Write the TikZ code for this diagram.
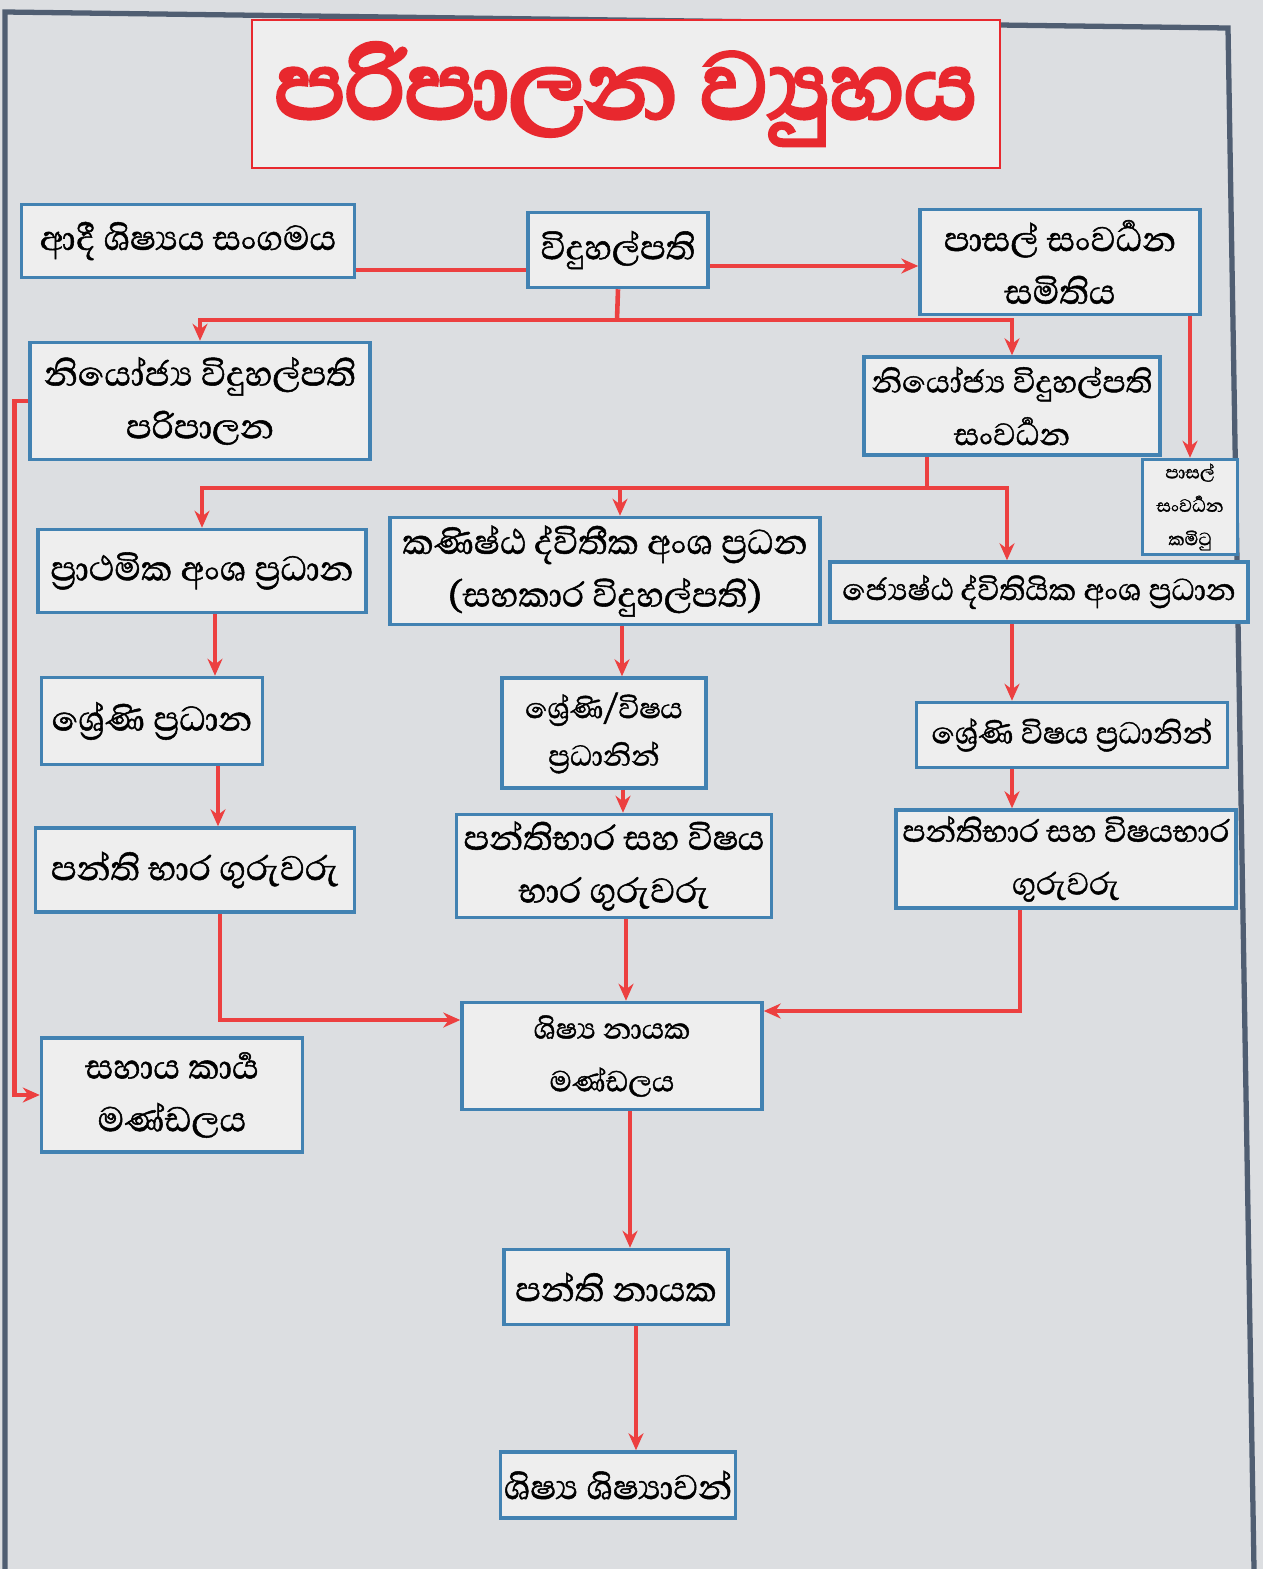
\documentclass[tikz,border=0pt]{standalone}
\usepackage{fontspec}
\setmainfont[Script=Sinhala, FakeBold=1.2]{Abhaya Libre}
\newfontfamily\titlefont[Script=Sinhala, FakeBold=4]{Abhaya Libre}
\usepackage{tikz}
\usetikzlibrary{arrows,arrows.meta,positioning}
\usepackage{xcolor}
\definecolor{paper}{RGB}{220,222,225}
\definecolor{cardfill}{RGB}{238,238,238}
\definecolor{cardblue}{RGB}{66,130,178}
\definecolor{inkred}{RGB}{236,64,64}
\definecolor{titlered}{RGB}{232,40,46}
\definecolor{framegray}{RGB}{80,94,114}
\tikzstyle{orgbox} = [rectangle, draw=cardblue, fill=cardfill, line width=2pt, align=center, inner sep=0pt, font=\fontsize{25}{30}\selectfont]
\tikzstyle{titlebox} = [rectangle, draw=titlered, fill=cardfill, line width=1.5pt, inner sep=0pt, text=titlered, font=\titlefont\fontsize{68}{76}\selectfont]
\tikzstyle{link} = [line width=2.6pt, draw=inkred]
\tikzstyle{arrow} = [link, -{Stealth[length=0.34cm,width=0.3cm]}]

\begin{document}
\begin{tikzpicture}[x=0.02cm, y=-0.02cm]
\useasboundingbox (0,0) rectangle (1263,1569);
\fill[paper] (0,0) rectangle (1263,1569);
% board frame
\draw[framegray, line width=3pt] (5,1569) -- (5,12) -- (1228,28) -- (1254,1569);

% title
\node (title) [titlebox, minimum width=14.96cm, minimum height=2.96cm] at (626,94) {පරිපාලන ව්‍යුහය};

% top row
\node (alumni) [orgbox, minimum width=6.66cm, minimum height=1.46cm] at (188,241) {ආදී ශිෂ්‍යය සංගමය};
\node (principal) [orgbox, minimum width=3.6cm, minimum height=1.5cm] at (618,250) {විදුහල්පති};
\node (sdsoc) [orgbox, minimum width=5.6cm, minimum height=2.1cm] at (1060,262) {පාසල් සංවර්‍ධන\\සමිතිය};

% deputies
\node (dpadmin) [orgbox, minimum width=6.8cm, minimum height=2.34cm] at (200,401) {නියෝජ්‍ය විදුහල්පති\\පරිපාලන};
\node (dpdev) [orgbox, minimum width=5.92cm, minimum height=1.96cm, font=\fontsize{22.5}{30}\selectfont] at (1012,406) {නියෝජ්‍ය විදුහල්පති\\සංවර්‍ධන};
\node (sdcom) [orgbox, minimum width=1.9cm, minimum height=1.9cm, font=\fontsize{13}{19}\selectfont] at (1190,507) {පාසල්\\සංවර්‍ධන\\කමිටු};

% section heads
\node (primary) [orgbox, minimum width=6.56cm, minimum height=1.66cm] at (202,571) {ප්‍රාථමික අංශ ප්‍රධාන};
\node (junior) [orgbox, minimum width=8.6cm, minimum height=2.14cm] at (605,571) {කණිෂ්ඨ ද්විතීක අංශ ප්‍රධන\\(සහකාර විදුහල්පති)};
\node (senior) [orgbox, minimum width=8.36cm, minimum height=1.2cm, font=\fontsize{22}{28}\selectfont] at (1039,592) {ජ්‍යෙෂ්ඨ ද්විතියික අංශ ප්‍රධාන};

% grade heads
\node (gradeP) [orgbox, minimum width=4.42cm, minimum height=1.74cm] at (152,721) {ශ්‍රේණි ප්‍රධාන};
\node (gradeJ) [orgbox, minimum width=4.08cm, minimum height=2.2cm, font=\fontsize{21}{27}\selectfont] at (604,733) {ශ්‍රේණි/විෂය\\ප්‍රධානින්};
\node (gradeS) [orgbox, minimum width=6.22cm, minimum height=1.3cm, font=\fontsize{22}{28}\selectfont] at (1072,735) {ශ්‍රේණි විෂය ප්‍රධානින්};

% teachers
\node (teachP) [orgbox, minimum width=6.38cm, minimum height=1.68cm] at (195,870) {පන්ති භාර ගුරුවරු};
\node (teachJ) [orgbox, minimum width=6.3cm, minimum height=2.06cm] at (614,866) {පන්තිභාර සහ විෂය\\භාර ගුරුවරු};
\node (teachS) [orgbox, minimum width=6.8cm, minimum height=1.96cm, font=\fontsize{22.5}{30}\selectfont] at (1066,859) {පන්තිභාර සහ විෂයභාර\\ගුරුවරු};

% lower part
\node (prefects) [orgbox, minimum width=6cm, minimum height=2.14cm, font=\fontsize{21}{30}\selectfont] at (612,1056) {ශිෂ්‍ය නායක\\මණ්ඩලය};
\node (support) [orgbox, minimum width=5.22cm, minimum height=2.28cm] at (172,1095) {සහාය කාර්‍ය\\මණ්ඩලය};
\node (monitors) [orgbox, minimum width=4.48cm, minimum height=1.5cm] at (616,1287) {පන්ති නායක};
\node (students) [orgbox, minimum width=4.7cm, minimum height=1.32cm] at (618,1485) {ශිෂ්‍ය ශිෂ්‍යාවන්};

% top links
\draw[link] ([yshift=-0.58cm]alumni.east) -- ([yshift=-0.58cm]alumni.east -| principal.west);
\draw[arrow] ([yshift=-0.32cm]principal.east) -- ([yshift=-0.32cm]principal.east -| sdsoc.west);
\coordinate (bus1) at (617,320);
\draw[link] (principal.south) -- (bus1);
\draw[arrow] (bus1) -| (dpadmin.north);
\draw[arrow] (bus1) -| (dpdev.north);
\draw[arrow] (sdsoc.south -| sdcom.north) -- (sdcom.north);

% deputy (development) to sections
\coordinate (bus2) at (927,488);
\draw[link] (dpdev.south -| bus2) -- (bus2);
\draw[arrow] (bus2) -| (primary.north);
\draw[arrow] (bus2) -| ([xshift=0.3cm]junior.north);
\draw[arrow] (bus2) -| ([xshift=-0.64cm]senior.north);

% deputy (admin) to support staff
\draw[arrow] (dpadmin.west) -- ++(-0.28cm,0) |- (support.west);

% columns
\draw[arrow] ([xshift=0.26cm]primary.south) -- ([xshift=0.26cm]primary.south |- gradeP.north);
\draw[arrow] ([xshift=1.32cm]gradeP.south) -- ([xshift=1.32cm]gradeP.south |- teachP.north);
\draw[arrow] ([xshift=0.34cm]junior.south) -- ([xshift=0.34cm]junior.south |- gradeJ.north);
\draw[arrow] ([xshift=0.38cm]gradeJ.south) -- ([xshift=0.38cm]gradeJ.south |- teachJ.north);
\draw[arrow] ([xshift=-0.54cm]senior.south) -- ([xshift=-0.54cm]senior.south |- gradeS.north);
\draw[arrow] ([xshift=-1.2cm]gradeS.south) -- ([xshift=-1.2cm]gradeS.south |- teachS.north);

% teachers to prefects
\draw[arrow] ([xshift=0.5cm]teachP.south) |- ([yshift=0.72cm]prefects.west);
\draw[arrow] ([xshift=0.24cm]teachJ.south) -- ([xshift=0.24cm]teachJ.south |- prefects.north);
\draw[arrow] ([xshift=-0.92cm]teachS.south) |- ([yshift=0.9cm]prefects.east);

% bottom chain
\draw[arrow] ([xshift=0.36cm]prefects.south) -- ([xshift=0.36cm]prefects.south |- monitors.north);
\draw[arrow] ([xshift=0.4cm]monitors.south) -- ([xshift=0.4cm]monitors.south |- students.north);
\end{tikzpicture}
\end{document}
